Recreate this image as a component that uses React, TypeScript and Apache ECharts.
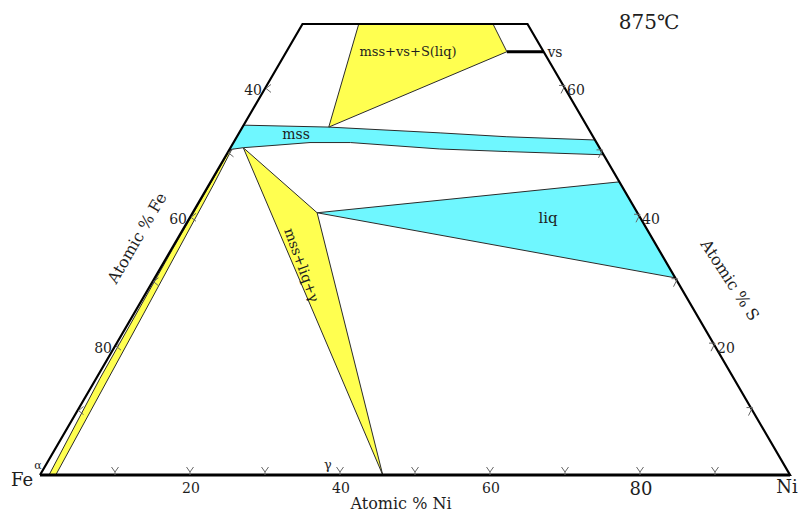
import React, { useEffect, useRef } from "react";
import * as echarts from "echarts";

// Compositions are [Ni %, S %]; Fe % = 100 - Ni - S
const frame = [[0, 0], [0, 70], [30, 70], [100, 0], [0, 0]];
const mssVsSLiq = [[7.5, 70], [25.4, 70], [29.4, 65.7], [11.5, 54.0]];
const vsTieLine = [[29.4, 65.7], [34.3, 65.7]];
const mssBand = [
  [0, 54.3], [11.5, 54.0], [26.8, 53.1], [36.0, 52.5], [48.0, 52.0],
  [50.3, 49.7], [37.2, 50.2], [28.0, 50.6], [15.6, 51.6], [10.2, 51.6],
  [6.0, 51.2], [1.7, 50.8], [0, 50.5],
];
const mssLiqGamma = [[1.7, 50.8], [16.6, 40.7], [45.7, 0]];
const liq = [[16.6, 40.7], [54.5, 45.5], [69.4, 30.6]];
const alphaBand = [
  [1.2, 0], [2.1, 0], [1.3, 25], [0.6, 45], [0.3, 50.5],
  [0.1, 50], [0.15, 35], [0.5, 15],
];

const niTicks = [10, 20, 30, 40, 50, 60, 70, 80, 90];
const niLabels = ["20", "40", "60", "80"];
const feTicks = [40, 50, 60, 70, 80, 90];
const feLabels = ["40", "60", "80"];
const sTicks = [10, 20, 30, 40, 50, 60];
const sLabels = ["20", "40", "60"];

const YELLOW = "#FFFF50";
const CYAN = "#6FF7FF";
const FONT = "DejaVu Serif";
const INK = "#1e1e1e";

const toXY = (p: number[]) => [p[0] + p[1] / 2, p[1]];

function regionSeries(pts: number[][], fill: string) {
  const xy = pts.map(toXY);
  return {
    type: "custom",
    coordinateSystem: "cartesian2d",
    silent: true,
    clip: false,
    data: [xy[0]],
    renderItem: (_p: any, api: any) => ({
      type: "polygon",
      shape: { points: xy.map((q) => api.coord(q)) },
      style: { fill, stroke: "#2b2b2b", lineWidth: 1 },
    }),
  };
}

function lineSeries(pts: number[][], width: number, z = 5) {
  const xy = pts.map(toXY);
  return {
    type: "custom",
    coordinateSystem: "cartesian2d",
    silent: true,
    clip: false,
    z,
    data: [xy[0]],
    renderItem: (_p: any, api: any) => ({
      type: "polyline",
      shape: { points: xy.map((q) => api.coord(q)) },
      style: { fill: "none", stroke: "#000", lineWidth: width, lineJoin: "miter" },
    }),
  };
}

function tStyle(text: string, size: number, align = "center") {
  return {
    text,
    fontFamily: FONT,
    fontSize: size,
    fill: INK,
    align,
    verticalAlign: "middle",
  };
}

function tickSeries(
  side: "bottom" | "left" | "right",
  ticks: number[],
  labels: string[]
) {
  const comps = ticks.map((t) =>
    side === "bottom" ? [t, 0] : side === "left" ? [0, 100 - t] : [100 - t, t]
  );
  return {
    type: "custom",
    coordinateSystem: "cartesian2d",
    silent: true,
    clip: false,
    z: 6,
    data: comps.map(toXY),
    renderItem: (params: any, api: any) => {
      const t = ticks[params.dataIndex];
      const [x, y] = api.coord(toXY(comps[params.dataIndex]));
      const stroke = { stroke: "#666", lineWidth: 1, fill: "none" };
      const children: any[] = [];
      const label = labels.includes(String(t)) ? String(t) : null;
      if (side === "bottom") {
        children.push({
          type: "polyline",
          shape: { points: [[x - 3.5, y - 8], [x, y - 3], [x + 3.5, y - 8]] },
          style: stroke,
        });
        children.push({ type: "line", shape: { x1: x, y1: y - 3, x2: x, y2: y }, style: stroke });
        if (label)
          children.push({
            type: "text",
            x: x + 1,
            y: y + 13,
            style: tStyle(label, label === "80" ? 18 : 14),
          });
      } else if (side === "left") {
        children.push({
          type: "polyline",
          shape: { points: [[x + 6, y - 4], [x + 1, y], [x + 6, y + 4]] },
          style: stroke,
        });
        if (label)
          children.push({ type: "text", x: x - 3, y: y + 2, style: tStyle(label, 14, "right") });
      } else {
        children.push({
          type: "polyline",
          shape: { points: [[x - 6, y - 3], [x, y - 3], [x - 4, y + 5]] },
          style: stroke,
        });
        if (label)
          children.push({ type: "text", x: x + 2, y: y + 2, style: tStyle(label, 14, "left") });
      }
      return { type: "group", children };
    },
  };
}

function txt(text: string, x: number, y: number, size: number, rotation = 0) {
  return { type: "text", x, y, rotation, z: 10, style: tStyle(text, size) };
}

export default function App() {
  const ref = useRef<HTMLDivElement>(null);
  useEffect(() => {
    const chart = echarts.init(ref.current!, null, { renderer: "svg" });
    const deg = Math.PI / 180;
    chart.setOption({
      animation: false,
      backgroundColor: "#fff",
      grid: { left: 40, right: 20, top: 24, bottom: 38, outerBoundsMode: "none", containLabel: false },
      xAxis: { type: "value", min: 0, max: 100, show: false },
      yAxis: { type: "value", min: 0, max: 70, show: false },
      series: [
        regionSeries(alphaBand, YELLOW),
        regionSeries(mssLiqGamma, YELLOW),
        regionSeries(liq, CYAN),
        regionSeries(mssBand, CYAN),
        regionSeries(mssVsSLiq, YELLOW),
        lineSeries(frame, 2.2),
        lineSeries([[0, 0], [100, 0]], 3.2),
        lineSeries(vsTieLine, 3),
        tickSeries("bottom", niTicks, niLabels),
        tickSeries("left", feTicks, feLabels),
        tickSeries("right", sTicks, sLabels),
      ],
      graphic: [
        txt("875℃", 649, 22, 20),
        txt("mss+vs+S(liq)", 408, 51, 13),
        txt("vs", 555, 52, 14),
        txt("mss", 296, 134, 14),
        txt("liq", 548, 218, 15),
        txt("mss+liq+γ", 302, 265, 14, -70 * deg),
        txt("Atomic % Fe", 137, 238, 16, 60 * deg),
        txt("Atomic % S", 730, 280, 16, -57 * deg),
        txt("Atomic % Ni", 401, 503, 16),
        txt("Fe", 22, 479, 18),
        txt("α", 38, 465, 11),
        txt("γ", 328, 464, 13),
        txt("Ni", 787, 486, 18),
      ],
    });
    return () => chart.dispose();
  }, []);
  return (
    <div
      ref={ref}
      style={{ position: "fixed", left: 0, top: 0, width: 810, height: 513, background: "#fff" }}
    />
  );
}
